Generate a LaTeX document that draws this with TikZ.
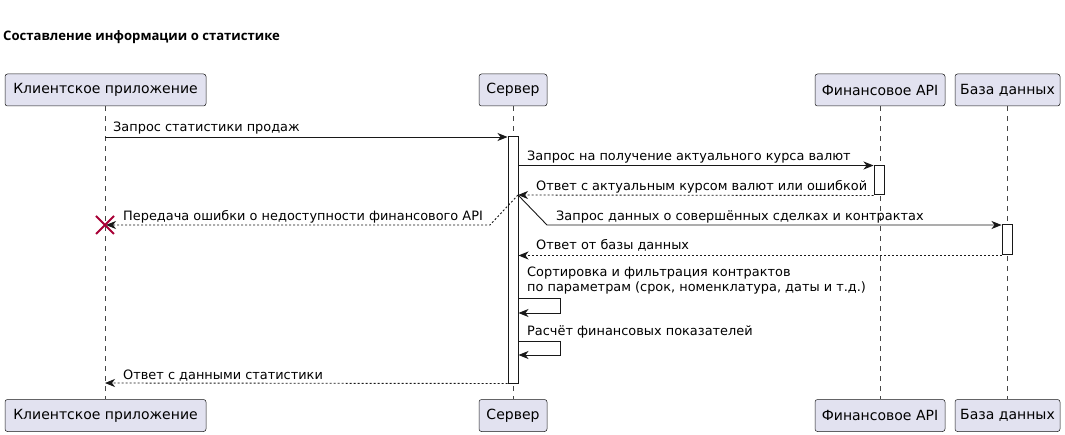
\documentclass[tikz,border=0pt]{standalone}
\usepackage{fontspec}
\setmainfont{DejaVu Sans}
\newfontfamily\titlefont{Open Sans}
\usetikzlibrary{arrows.meta}
\definecolor{partfill}{HTML}{E2E2F0}
\definecolor{ink}{HTML}{181818}
\definecolor{crossred}{HTML}{A80036}
\begin{document}
\begin{tikzpicture}[x=1pt,y=-1pt,
  >={Stealth[length=10pt,width=8pt,inset=3pt]},
  part/.style={draw=ink,fill=partfill,rounded corners=2.5pt,line width=0.5pt,
    minimum height=32pt,inner sep=0pt,font=\fontsize{14}{16}\selectfont},
  life/.style={draw=ink!80,line width=0.5pt,dash pattern=on 5pt off 5pt},
  actbar/.style={draw=ink,fill=white,line width=1pt,minimum width=10pt,inner sep=0pt},
  msg/.style={draw=ink,line width=0.9pt,->},
  ret/.style={draw=ink,line width=0.9pt,->,dash pattern=on 2pt off 2pt},
  lbl/.style={anchor=base west,inner sep=0pt,font=\fontsize{12.9}{15}\selectfont}]
\useasboundingbox[fill=white] (0,0) rectangle (1065,435);

% title
\node[anchor=base west,inner sep=0pt,font=\titlefont\bfseries\fontsize{13.1}{16}\selectfont]
  (title) at (3,41) {Составление информации о статистике};

% participants, top and bottom
\node[part,minimum width=201pt] (cT) at (105.5,90) {Клиентское приложение};
\node[part,minimum width=68pt]  (sT) at (513,90) {Сервер};
\node[part,minimum width=130pt] (fT) at (880,90) {Финансовое API};
\node[part,minimum width=105pt] (dT) at (1007.5,90) {База данных};
\node[part,minimum width=201pt] (cB) at (105.5,415.5) {Клиентское приложение};
\node[part,minimum width=68pt]  (sB) at (513,415.5) {Сервер};
\node[part,minimum width=130pt] (fB) at (880,415.5) {Финансовое API};
\node[part,minimum width=105pt] (dB) at (1007.5,415.5) {База данных};

% lifelines
\draw[life] (cT.south) -- (cB.north);
\draw[life] (sT.south) -- (sB.north);
\draw[life] (fT.south) -- (fB.north);
\draw[life] (dT.south) -- (dB.north);

% activations
\node[actbar,minimum height=246pt] (sA) at (513,260) {};
\node[actbar,minimum height=29pt]  (fA) at (879,180.5) {};
\node[actbar,minimum height=30pt]  (dA) at (1007,240) {};

% named points on the lifelines
\coordinate (c137) at (105,137);
\coordinate (cX) at (105,225);
\coordinate (c383) at (105,383);
\coordinate (fork) at (518,195);
\coordinate (errBend) at (490,225);
\coordinate (reqBend) at (547,225);
\coordinate (self1) at (560,298);
\coordinate (self2) at (560,341);

% 1. request for sales statistics
\draw[msg] (c137) -- (sA.west |- c137);
\node[lbl] (m1) at (113,132) {Запрос статистики продаж};

% 2. request for exchange rate
\draw[msg] (sA.east |- fA.north) -- (fA.west |- fA.north);
\node[lbl] (m2) at (527,161) {Запрос на получение актуального курса валют};

% 3. reply with rate or error
\draw[ret] (fA.south west) -- (fork);
\node[lbl] (m3) at (536,191) {Ответ с актуальным курсом валют или ошибкой};

% 4. error passed to the client (client destroyed)
\draw[ret] (fork) -- (errBend) -- ([xshift=1pt]cX);
\node[lbl] (m4) at (123,221) {Передача ошибки о недоступности финансового API};
\draw[crossred,line width=2pt] ([shift={(-9,-9)}]cX) -- ([shift={(9,9)}]cX)
  ([shift={(-9,9)}]cX) -- ([shift={(9,-9)}]cX);

% 5. request for deals and contracts
\draw[msg] (fork) -- (reqBend) -- (reqBend -| dA.west);
\node[lbl] (m5) at (556,221) {Запрос данных о совершённых сделках и контрактах};

% 6. reply from database
\draw[ret] (dA.south west) -- (dA.south west -| sA.east);
\node[lbl] (m6) at (536,250) {Ответ от базы данных};

% 7. sorting and filtering (self call)
\node[lbl,align=left,anchor=north west] (m7) at (527,267)
  {Сортировка и фильтрация контрактов\\по параметрам (срок, номенклатура, даты и т.д.)};
\draw[msg] (sA.east |- self1) -- (self1) -- ++(0,15) -- (sA.east |- 0,313);

% 8. financial indicators (self call)
\node[lbl] (m8) at (527,336) {Расчёт финансовых показателей};
\draw[msg] (sA.east |- self2) -- (self2) -- ++(0,14) -- (sA.east |- 0,355);

% 9. statistics returned to the client
\draw[ret] (sA.south west) -- (c383);
\node[lbl] (m9) at (123,379) {Ответ с данными статистики};
\end{tikzpicture}
\end{document}
